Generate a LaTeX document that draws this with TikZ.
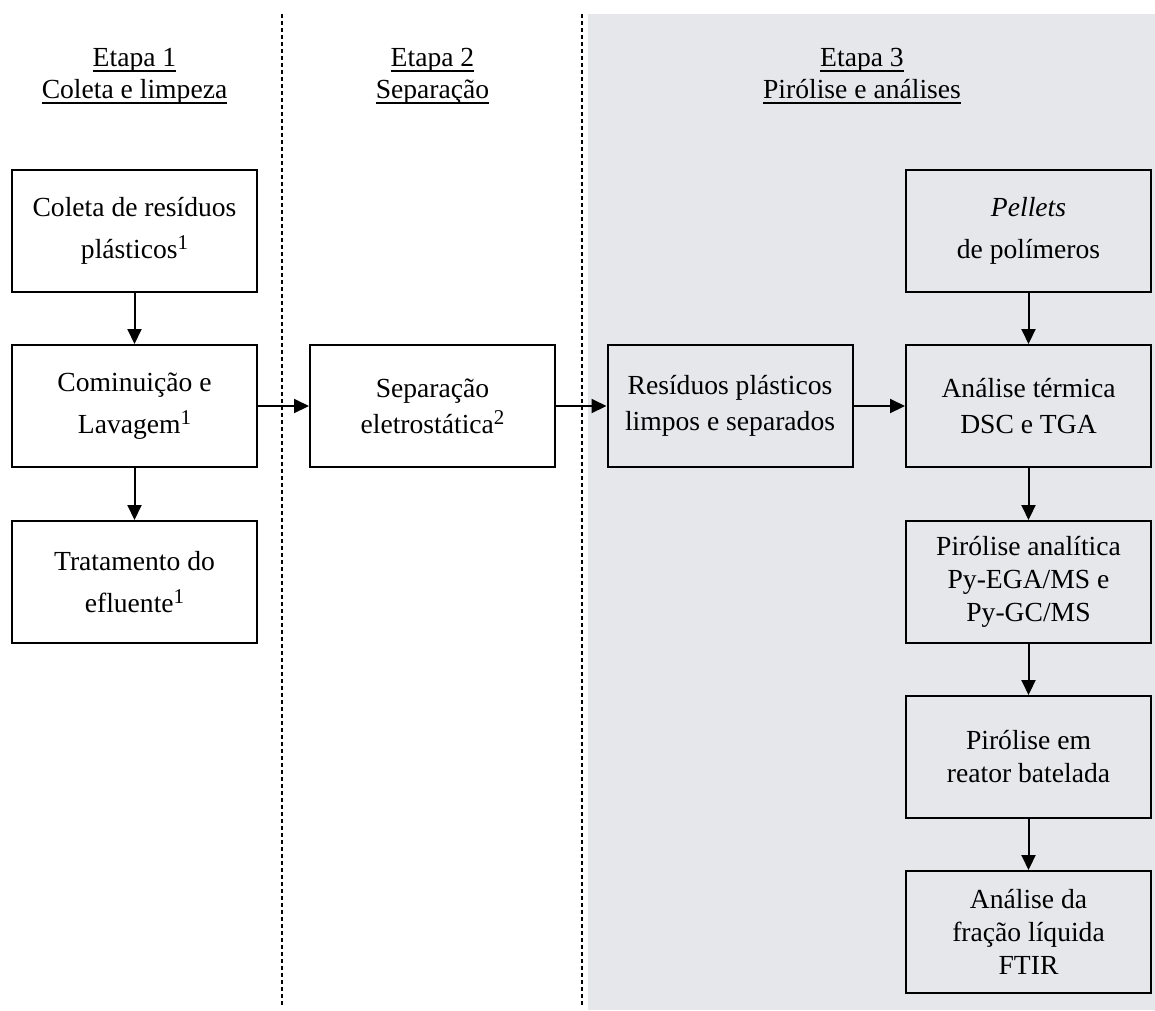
\documentclass[tikz,border=0pt]{standalone}
\usepackage{fontspec}
\setmainfont{Liberation Serif}
\usetikzlibrary{arrows.meta}
\definecolor{bggray}{RGB}{230,231,235}
\newcommand\mysup[1]{\raisebox{9pt}{\fontsize{21}{21}\selectfont #1}}
\begin{document}
\begin{tikzpicture}[x=1pt,y=-1pt,
  box/.style={draw, line width=2pt, minimum width=245pt, minimum height=122pt, align=center, inner sep=0pt, font=\fontsize{27.6}{42}\selectfont},
  box3/.style={box, font=\fontsize{27.6}{33}\selectfont},
  box36/.style={box, font=\fontsize{27.6}{36}\selectfont},
  arr/.style={line width=2pt, -{Triangle[length=15pt,width=14pt]}},
  sepline/.style={line width=2pt, dash pattern=on 4pt off 3pt},
  hdr/.style={anchor=base, inner sep=0pt, font=\fontsize{27.6}{33}\selectfont},
  uline/.style={line width=1.5pt}]
\useasboundingbox (0,0) rectangle (1155,1010);
\fill[bggray] (588,14) rectangle (1155,1010);
\draw[sepline] (282,14) -- (282,1007);
\draw[sepline] (582,14) -- (582,1007);

% headers
\node[hdr] (h1a) at (134.5,66) {Etapa 1};
\node[hdr] (h1b) at (134.5,98) {Coleta e limpeza};
\node[hdr] (h2a) at (432.5,66) {Etapa 2};
\node[hdr] (h2b) at (432.5,98) {Separação};
\node[hdr] (h3a) at (862,66) {Etapa 3};
\node[hdr] (h3b) at (862,98) {Pirólise e análises};
\foreach \h in {h1a,h1b,h2a,h2b,h3a,h3b}
  \draw[uline] ([yshift=-5pt]\h.base west) -- ([yshift=-5pt]\h.base east);

% boxes
\node[box, fill=white] (A) at (134.5,230.5) {Coleta de resíduos\\plásticos\mysup{1}};
\node[box, fill=white] (B) at (134.5,406) {Cominuição e\\Lavagem\mysup{1}};
\node[box, fill=white] (C) at (134.5,582) {Tratamento do\\efluente\mysup{1}};
\node[box36, fill=white] (S) at (432.5,406) {Separação\\eletrostática\mysup{2}};
\node[box36] (R) at (730,406) {Resíduos plásticos\\limpos e separados};
\node[box] (P) at (1028.5,230.5) {\textit{Pellets}\\de polímeros};
\node[box36] (T) at (1028.5,406) {Análise térmica\\DSC e TGA};
\node[box3] (PA) at (1028.5,582) {Pirólise analítica\\Py-EGA/MS e\\Py-GC/MS};
\node[box3] (PR) at (1028.5,757) {Pirólise em\\reator batelada};
\node[box3] (F) at (1028.5,932) {Análise da\\fração líquida\\FTIR};

% arrows
\draw[arr] (A) -- (B);
\draw[arr] (B) -- (C);
\draw[arr] (B) -- (S);
\draw[arr] (S) -- (R);
\draw[arr] (R) -- (T);
\draw[arr] (P) -- (T);
\draw[arr] (T) -- (PA);
\draw[arr] (PA) -- (PR);
\draw[arr] (PR) -- (F);
\end{tikzpicture}
\end{document}
